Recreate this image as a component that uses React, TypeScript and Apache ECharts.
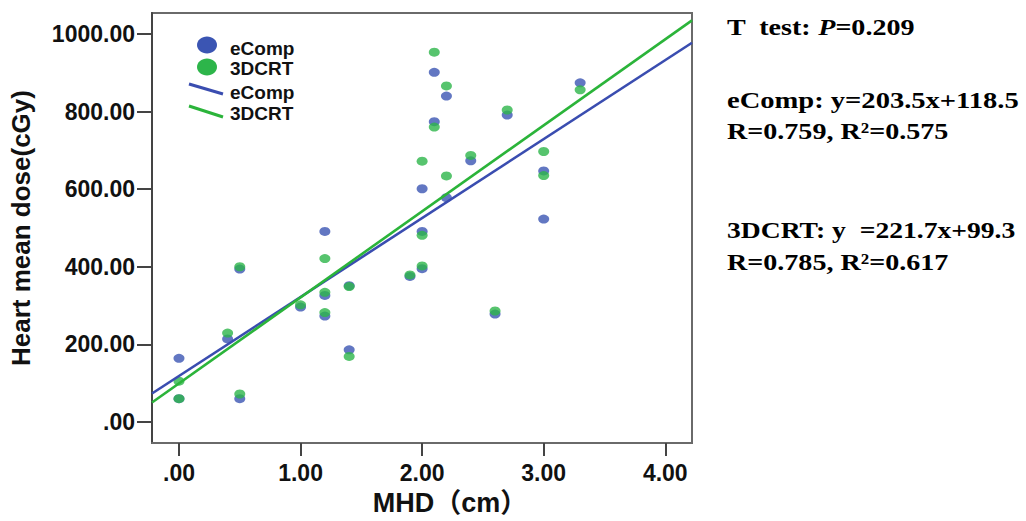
import React, { useEffect, useRef } from "react";
import * as echarts from "echarts";

// ---- data ----
const xTickValues = [0, 1, 2, 3, 4];
const xTickLabels = [".00", "1.00", "2.00", "3.00", "4.00"];
const yTickValues = [0, 200, 400, 600, 800, 1000];
const yTickLabels = [".00", "200.00", "400.00", "600.00", "800.00", "1000.00"];

const eCompMHD = [0, 0, 0.4, 0.5, 0.5, 1.0, 1.2, 1.2, 1.2, 1.4, 1.4, 1.9, 2.0, 2.0, 2.0, 2.1, 2.1, 2.2, 2.2, 2.4, 2.6, 2.7, 3.0, 3.0, 3.3];
const eCompDose = [164, 60, 214, 394, 60, 296, 491, 326, 273, 351, 186, 375, 601, 491, 395, 901, 774, 840, 578, 673, 278, 791, 647, 523, 874];

const crtMHD = [0, 0, 0.4, 0.5, 0.5, 1.0, 1.2, 1.2, 1.2, 1.4, 1.4, 1.9, 2.0, 2.0, 2.0, 2.1, 2.1, 2.2, 2.2, 2.4, 2.6, 2.7, 3.0, 3.0, 3.3];
const crtDose = [105, 60, 229, 400, 72, 302, 421, 334, 282, 349, 169, 379, 672, 481, 402, 953, 760, 866, 634, 687, 286, 804, 697, 635, 856];

// regression: [slope, intercept]
const eCompFit = [203.5, 118.5];
const crtFit = [221.7, 99.3];

const seriesNames = ["eComp", "3DCRT"];

const statLines = [
  "T  test: P=0.209",
  "eComp: y=203.5x+118.5",
  "R=0.759, R²=0.575",
  "3DCRT: y  =221.7x+99.3",
  "R=0.785, R²=0.617",
];

const X_MIN = -0.222;
const X_MAX = 4.22;
const Y_MIN = -54.5;
const Y_MAX = 1054;

const BLUE = "#3b55b3";
const GREEN = "#2db54a";
const BLUE_LINE = "#3a4db0";
const GREEN_LINE = "#2bb43a";

const SANS = "'Liberation Sans', Arial, 'Noto Sans CJK SC', sans-serif";
const SERIF = "'Liberation Serif', 'Times New Roman', serif";

function zip(xs: number[], ys: number[]) {
  return xs.map((x, i) => [x, ys[i]]);
}
function fitLine(fit: number[]) {
  return [X_MIN, X_MAX].map((x) => [x, fit[0] * x + fit[1]]);
}

export default function App() {
  const ref = useRef<HTMLDivElement>(null);

  useEffect(() => {
    document.body.style.margin = "0";
    const chart = echarts.init(ref.current!, undefined, { renderer: "svg" });

    const serifText = (x: number, y: number, text: string, sx: number, rich?: any) => ({
      type: "text",
      x,
      y,
      scaleX: sx,
      style: {
        text,
        fill: "#000",
        fontFamily: SERIF,
        fontWeight: "bold",
        fontSize: 24,
        align: "left",
        verticalAlign: "middle",
        rich,
      },
    });

    const richStyle = (italic: boolean) => ({
      fontFamily: SERIF,
      fontWeight: "bold",
      fontSize: 24,
      fontStyle: italic ? "italic" : "normal",
      fill: "#000",
    });

    const legendText = (x: number, y: number, text: string) => ({
      type: "text",
      x,
      y,
      style: {
        text,
        fill: "#111",
        fontFamily: SANS,
        fontWeight: "bold",
        fontSize: 19,
        align: "left",
        verticalAlign: "middle",
      },
    });

    chart.setOption({
      animation: false,
      backgroundColor: "#fff",
      grid: {
        left: 152,
        width: 540,
        top: 13,
        height: 437,
        show: true,
        borderColor: "#6a6a6a",
        borderWidth: 2,
        backgroundColor: "#fff",
      },
      xAxis: {
        type: "value",
        min: X_MIN,
        max: X_MAX,
        name: "MHD（cm）",
        nameLocation: "middle",
        nameGap: 45,
        nameTextStyle: {
          fontFamily: SANS,
          fontWeight: "bold",
          fontSize: 27,
          color: "#111",
          padding: [0, 0, 0, 56],
        },
        axisLine: { show: true, onZero: false, lineStyle: { color: "#6a6a6a", width: 2 } },
        splitLine: { show: false },
        axisTick: {
          show: true,
          length: 13,
          customValues: xTickValues,
          lineStyle: { color: "#444", width: 2 },
        },
        axisLabel: {
          customValues: xTickValues,
          margin: 18,
          fontFamily: SANS,
          fontWeight: "bold",
          fontSize: 23,
          color: "#111",
          formatter: (v: number) => xTickLabels[xTickValues.indexOf(v)] ?? "",
        },
      },
      yAxis: {
        type: "value",
        min: Y_MIN,
        max: Y_MAX,
        name: "Heart mean dose(cGy)",
        nameLocation: "middle",
        nameGap: 118,
        nameTextStyle: { fontFamily: SANS, fontWeight: "bold", fontSize: 26, color: "#111" },
        axisLine: { show: true, onZero: false, lineStyle: { color: "#444", width: 2 } },
        splitLine: { show: false },
        axisTick: {
          show: true,
          length: 15,
          customValues: yTickValues,
          lineStyle: { color: "#444", width: 2 },
        },
        axisLabel: {
          customValues: yTickValues,
          margin: 17,
          fontFamily: SANS,
          fontWeight: "bold",
          fontSize: 23,
          color: "#111",
          formatter: (v: number) => yTickLabels[yTickValues.indexOf(v)] ?? "",
        },
      },
      series: [
        {
          name: seriesNames[0],
          type: "scatter",
          symbol: "circle",
          symbolSize: [11, 9],
          itemStyle: { color: BLUE },
          data: zip(eCompMHD, eCompDose),
        },
        {
          name: seriesNames[1],
          type: "scatter",
          symbol: "circle",
          symbolSize: [11, 9],
          itemStyle: { color: GREEN },
          data: zip(crtMHD, crtDose),
        },
        {
          name: seriesNames[0] + " fit",
          type: "line",
          showSymbol: false,
          symbol: "none",
          lineStyle: { color: BLUE_LINE, width: 2.6 },
          data: fitLine(eCompFit),
          z: 3,
        },
        {
          name: seriesNames[1] + " fit",
          type: "line",
          showSymbol: false,
          symbol: "none",
          lineStyle: { color: GREEN_LINE, width: 2.6 },
          data: fitLine(crtFit),
          z: 3,
        },
      ],
      graphic: [
        // legend
        { type: "ellipse", shape: { cx: 207, cy: 45, rx: 10, ry: 8.5 }, style: { fill: BLUE } },
        legendText(230, 48, seriesNames[0]),
        { type: "ellipse", shape: { cx: 207, cy: 67, rx: 10, ry: 8.5 }, style: { fill: GREEN } },
        legendText(230, 68, seriesNames[1]),
        { type: "line", shape: { x1: 189, y1: 84, x2: 223, y2: 94 }, style: { stroke: BLUE_LINE, lineWidth: 3 } },
        legendText(230, 92, seriesNames[0]),
        { type: "line", shape: { x1: 189, y1: 106, x2: 223, y2: 117 }, style: { stroke: GREEN_LINE, lineWidth: 3 } },
        legendText(230, 113, seriesNames[1]),
        // statistics text
        serifText(727, 27, "{a|T  test: }{i|P}{a|=0.209}", 1.17, { a: richStyle(false), i: richStyle(true) }),
        serifText(727, 100, statLines[1], 1.19),
        serifText(727, 131, statLines[2], 1.17),
        serifText(727, 230, statLines[3], 1.15),
        serifText(727, 262, statLines[4], 1.17),
      ],
    });

    return () => chart.dispose();
  }, []);

  return (
    <div
      ref={ref}
      style={{ position: "absolute", left: 0, top: 0, width: 1026, height: 521 }}
    />
  );
}
